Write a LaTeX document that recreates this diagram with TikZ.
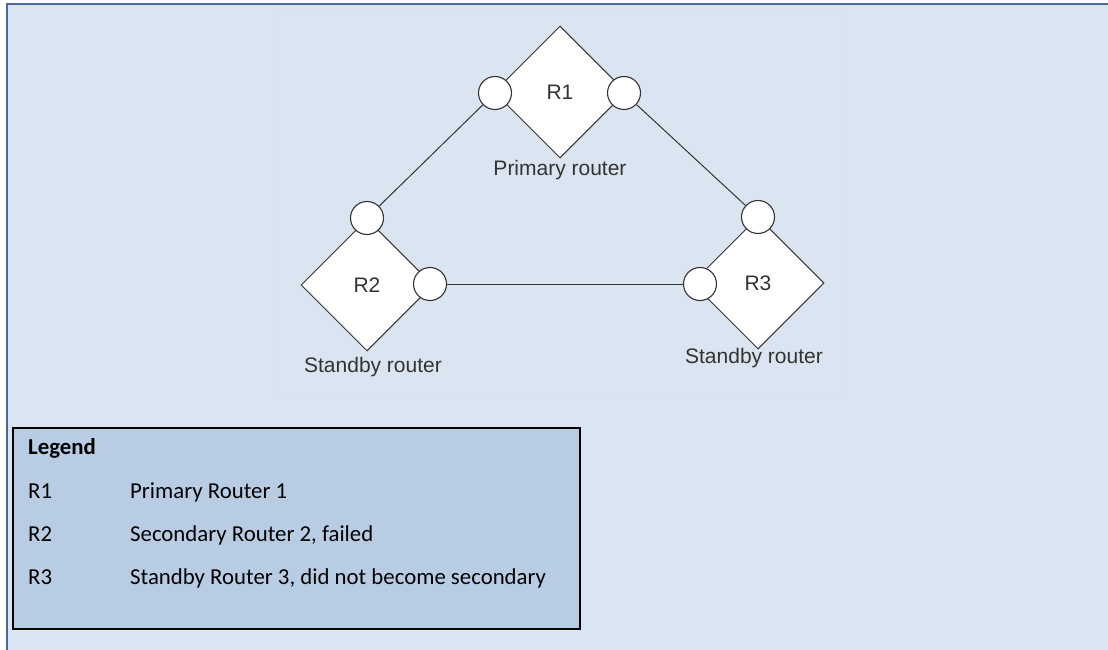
\documentclass[tikz,border=0pt]{standalone}
\usepackage{fontspec}
\setmainfont{Liberation Sans}
\newfontfamily\legfont{Carlito}
\usetikzlibrary{shapes.geometric}
\definecolor{bgblue}{HTML}{DBE5F1}
\definecolor{framebl}{HTML}{4A6A9E}
\definecolor{legfill}{HTML}{B8CCE4}
\definecolor{imgedge}{HTML}{D2E6F7}
\definecolor{ink}{HTML}{333333}
\begin{document}
\begin{tikzpicture}[x=1pt,y=-1pt,
 router/.style={diamond, draw=ink, fill=white, line width=1pt, minimum width=132pt, minimum height=132pt, inner sep=0pt, font=\fontsize{21}{25}\selectfont, text=ink},
 port/.style={circle, draw=ink, fill=white, line width=1.1pt, minimum size=33pt, inner sep=0pt},
 link/.style={draw=ink, line width=1pt},
 rcaption/.style={font=\fontsize{21}{25}\selectfont, text=ink, inner sep=0pt},
 leg/.style={font=\legfont\fontsize{22.8}{27}\selectfont, text=black, inner sep=0pt, anchor=base west}]
\useasboundingbox (0,0) rectangle (1108,650);
\fill[white] (0,0) rectangle (1108,650);
\fill[bgblue] (7,4) rectangle (1108,650);
\draw[framebl, line width=2pt] (7,650) -- (7,4) -- (1108,4);
\draw[imgedge, line width=1pt] (276,14) rectangle (845,392);
% routers
\node[router] (r1) at (560,92) {R1};
\node[router] (r2) at (367,285) {R2};
\node[router] (r3) at (758,283) {R3};
% ports
\node[port] (p1l) at (495,93) {};
\node[port] (p1r) at (624,93) {};
\node[port] (p2t) at (367,218) {};
\node[port] (p2r) at (430,284) {};
\node[port] (p3t) at (758,217) {};
\node[port] (p3l) at (700,284) {};
% links
\draw[link] (p1l) -- (p2t);
\draw[link] (p1r) -- (p3t);
\draw[link] (p2r) -- (p3l);
% captions
\node[rcaption] (c1) at (560,170) {Primary router};
\node[rcaption] (c2) at (373,367) {Standby router};
\node[rcaption] (c3) at (754,358) {Standby router};
% legend
\node[draw=black, fill=legfill, line width=2.2pt, minimum width=567pt, minimum height=201pt, anchor=north west, inner sep=0pt] (legbox) at (12,427) {};
\node[leg] (lt) at (28,454) {\bfseries Legend};
\node[leg] (k1) at (28,498) {R1};
\node[leg] (v1) at (130,498) {Primary Router 1};
\node[leg] (k2) at (28,541) {R2};
\node[leg] (v2) at (130,541) {Secondary Router 2, failed};
\node[leg] (k3) at (28,584) {R3};
\node[leg] (v3) at (130,584) {Standby Router 3, did not become secondary};
\end{tikzpicture}
\end{document}
